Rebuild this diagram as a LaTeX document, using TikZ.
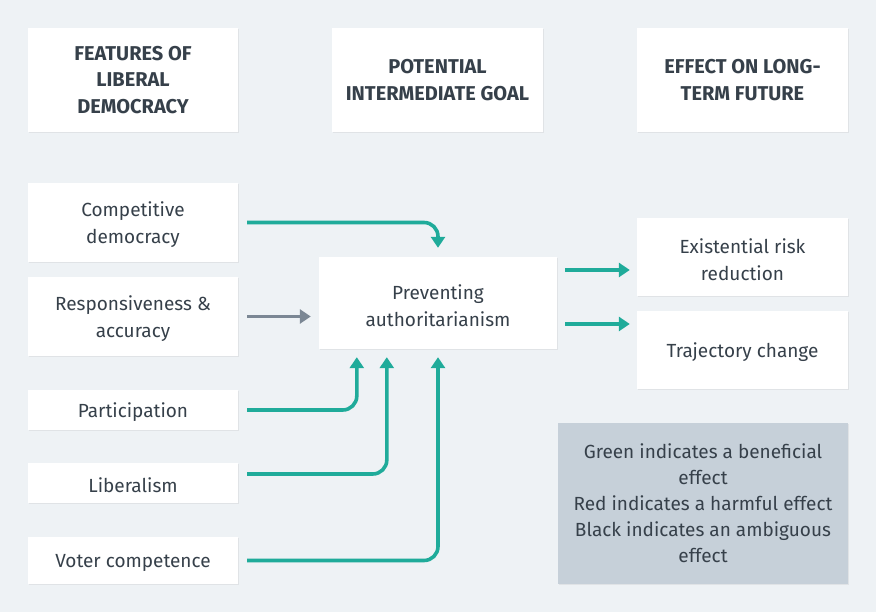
\documentclass[tikz,border=0pt]{standalone}
\usepackage{fontspec}
\setmainfont{Fira Sans}
\usetikzlibrary{arrows.meta,calc,shadows}
\definecolor{bg}{HTML}{EEF2F5}
\definecolor{teal}{HTML}{1FAB9A}
\definecolor{grayarr}{HTML}{7B8794}
\definecolor{txt}{HTML}{36404A}
\definecolor{legendbg}{HTML}{C6D0D9}
\tikzset{
  box/.style={fill=white, draw=none, text=txt, align=center, inner sep=0pt,
    drop shadow={shadow xshift=0.5pt, shadow yshift=-1pt, fill=black, opacity=0.06}},
  hdr/.style={box, font=\fontsize{20}{26.5}\selectfont\bfseries},
  lbl/.style={text=txt, align=center, inner sep=0pt, font=\fontsize{19}{27}\selectfont, yshift=-2.6pt},
  body/.style={box, label={[lbl]center:#1}},
  legendbox/.style={box, fill=legendbg, font=\fontsize{19}{26}\selectfont},
  conn/.style={line width=3.6pt, color=teal, rounded corners=14pt,
    -{Triangle[width=14pt,length=11pt]}},
  conngray/.style={conn, color=grayarr},
}
\begin{document}
\begin{tikzpicture}[x=1pt,y=-1pt]
\fill[bg] (0,0) rectangle (876,612);
\useasboundingbox (0,0) rectangle (876,612);
% headers
\node[hdr, minimum width=210, minimum height=104] (h1) at (133,80) {FEATURES OF\\LIBERAL\\DEMOCRACY};
\node[hdr, minimum width=211, minimum height=104] (h2) at (437.5,80) {POTENTIAL\\INTERMEDIATE GOAL};
\node[hdr, minimum width=211, minimum height=104] (h3) at (742.5,80) {EFFECT ON LONG-\\TERM FUTURE};
% left column
\node[body={Competitive\\democracy}, minimum width=210, minimum height=79] (comp) at (133,222.5) {};
\node[body={Responsiveness \&\\accuracy}, minimum width=210, minimum height=79] (resp) at (133,316.5) {};
\node[body={Participation}, minimum width=210, minimum height=40] (part) at (133,410) {};
\node[body={Liberalism}, minimum width=210, minimum height=40] (lib) at (133,483) {};
\node[body={Voter competence}, minimum width=210, minimum height=47] (vot) at (133,560.5) {};
% middle
\node[body={Preventing\\authoritarianism}, minimum width=238, minimum height=92] (prev) at (438,303) {};
% right
\node[body={Existential risk\\reduction}, minimum width=211, minimum height=78] (ext) at (742.5,257) {};
\node[body={Trajectory change}, minimum width=211, minimum height=78] (traj) at (742.5,350) {};
% legend
\node[legendbox, minimum width=290, minimum height=161, yshift=-1pt] (leg) at (703,502.5)
  {Green indicates a beneficial\\effect\\Red indicates a harmful effect\\Black indicates an ambiguous\\effect};
% connectors
\draw[conn, shorten <=9pt, shorten >=9pt] (comp.east) -| (prev.north);
\draw[conngray, shorten <=9pt, shorten >=8pt] (resp.east) -- (resp.east -| prev.west);
\coordinate (pA) at ($(prev.south west)+(38,0)$);
\coordinate (pB) at ($(prev.south west)+(68,0)$);
\draw[conn, shorten <=9pt, shorten >=8pt] (part.east) -| (pA);
\draw[conn, shorten <=9pt, shorten >=8pt] ($(lib.east)+(0,-9)$) -| (pB);
\draw[conn, shorten <=9pt, shorten >=8pt] (vot.east) -| (prev.south);
\coordinate (eA) at ($(prev.east)+(0,-33)$);
\coordinate (eB) at ($(prev.east)+(0,21)$);
\draw[conn, shorten <=8pt, shorten >=7pt] (eA) -- (eA -| ext.west);
\draw[conn, shorten <=8pt, shorten >=7pt] (eB) -- (eB -| traj.west);
\end{tikzpicture}
\end{document}
